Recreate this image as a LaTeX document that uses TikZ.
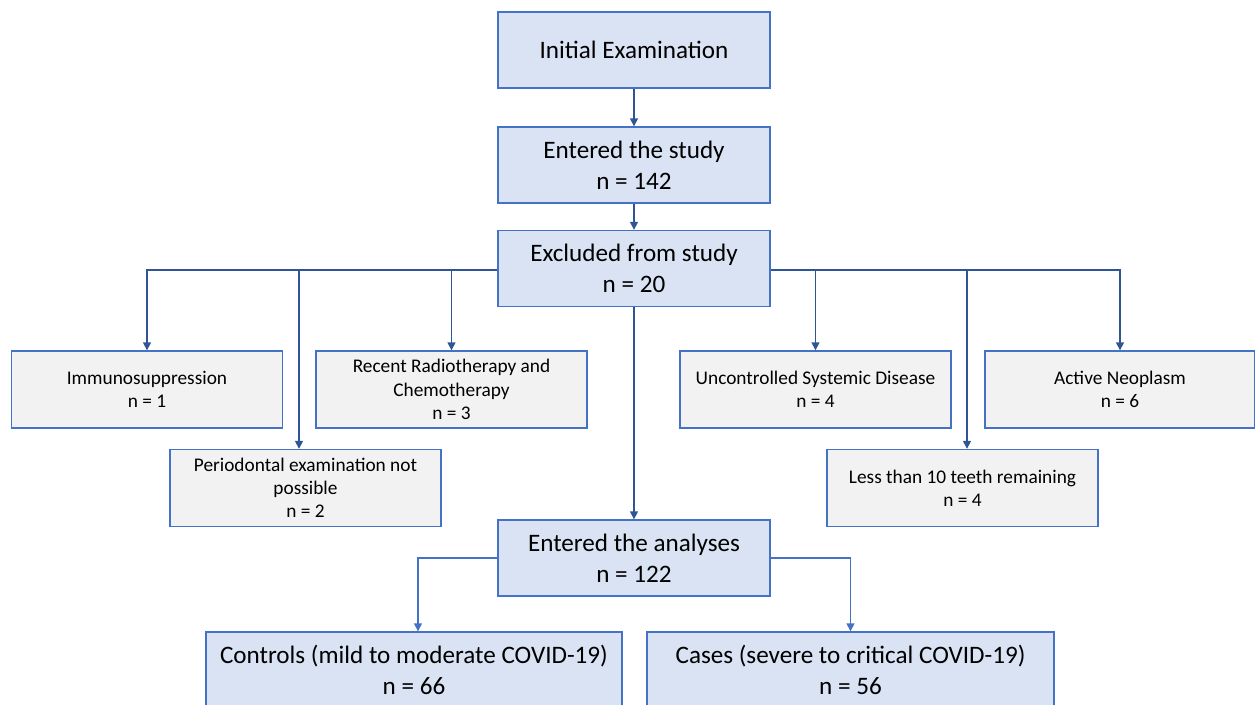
\documentclass[tikz,border=0pt]{standalone}
\usepackage{fontspec}
\setmainfont{Carlito}
\usepackage{tikz}
\usetikzlibrary{arrows.meta,positioning,calc}
\definecolor{FlowBlue}{RGB}{218,227,243}
\definecolor{FlowEdge}{RGB}{68,114,196}
\definecolor{FlowArrow}{RGB}{47,85,151}
\definecolor{FlowGray}{RGB}{242,242,242}

\begin{document}
\begin{tikzpicture}[x=0.02cm, y=-0.02cm,
    mainbox/.style={draw=FlowEdge, fill=FlowBlue, line width=0.8pt, minimum width=5.44cm, minimum height=1.52cm, align=center, font=\fontsize{14.3}{17.6}\selectfont, inner sep=0pt},
    exclbox/.style={draw=FlowEdge, fill=FlowGray, line width=0.8pt, minimum width=5.42cm, minimum height=1.54cm, align=center, font=\fontsize{11}{13.2}\selectfont, inner sep=0pt},
    arr/.style={draw=FlowArrow, line width=0.85pt, -{Triangle[length=4.5pt,width=4.5pt]}}]
        \clip (0,0) rectangle (1255,704);
        \useasboundingbox (0,0) rectangle (1255,704);
        % main flow
        \node[mainbox] (init) at (634,50) {Initial Examination};
        \node[mainbox] (study) at (634,165) {Entered the study\\n = 142};
        \node[mainbox] (excl) at (634,268.5) {Excluded from study\\n = 20};
        \node[mainbox] (anal) at (634,558) {Entered the analyses\\n = 122};
        \node[mainbox, minimum width=8.32cm] (ctrl) at (414,670) {Controls (mild to moderate COVID-19)\\n = 66};
        \node[mainbox, minimum width=8.14cm] (cases) at (850.5,670) {Cases (severe to critical COVID-19)\\n = 56};
        % exclusion reasons
        \node[exclbox] (immuno) at (147,389.5) {Immunosuppression\\n = 1};
        \node[exclbox] (radio) at (451.5,389.5) {Recent Radiotherapy and\\Chemotherapy\\n = 3};
        \node[exclbox] (disease) at (815.5,389.5) {Uncontrolled Systemic Disease\\n = 4};
        \node[exclbox, minimum width=5.4cm] (neo) at (1120,389.5) {Active Neoplasm\\n = 6};
        \node[exclbox] (perio) at (305.5,488) {Periodontal examination not\\possible\\n = 2};
        \node[exclbox] (teeth) at (962.5,488) {Less than 10 teeth remaining\\n = 4};
        \coordinate (jperio) at (299,270);
        \coordinate (jteeth) at (967,270);
        % connectors
        \draw[arr] (init) -- (study);
        \draw[arr] (study) -- (excl);
        \draw[arr] (excl.west |- jperio) -| (immuno.north);
        \draw[arr] (jperio) -- (jperio |- perio.north);
        \draw[arr] (jperio -| radio) -- (radio.north);
        \draw[arr] (excl.east |- jteeth) -| (neo.north);
        \draw[arr] (jteeth -| disease) -- (disease.north);
        \draw[arr] (jteeth) -- (jteeth |- teeth.north);
        \draw[arr] (excl) -- (anal);
        \draw[arr, draw=FlowEdge] (anal.west) -| ($(ctrl.north)+(4,0)$);
        \draw[arr, draw=FlowEdge] (anal.east) -| (cases.north);
\end{tikzpicture}
\end{document}
